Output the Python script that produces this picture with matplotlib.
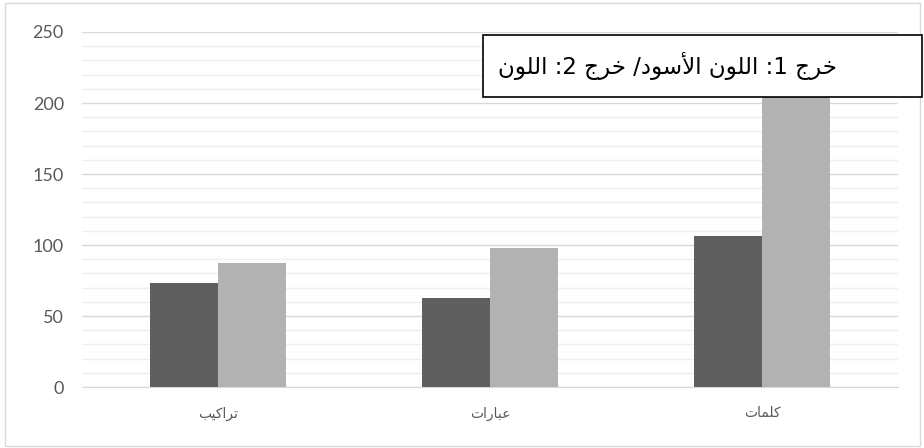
import matplotlib.pyplot as plt
from matplotlib.patches import Rectangle
from matplotlib.ticker import MultipleLocator

# data
categories = ['تراكيب', 'عبارات', 'كلمات']
output1 = [73, 63, 106]     # dark bars
output2 = [87, 98, 220]     # light bars (last one hidden behind the box)
box_text = 'خرج 1: اللون الأسود/ خرج 2: اللون'

# --- tiny arabic shaper (no arabic_reshaper / bidi available) ---
# letter: (isolated, final, initial, medial); None = does not join forward
FORMS = {
    'ا': (0xFE8D, 0xFE8E, None, None), 'أ': (0xFE83, 0xFE84, None, None),
    'ب': (0xFE8F, 0xFE90, 0xFE91, 0xFE92), 'ت': (0xFE95, 0xFE96, 0xFE97, 0xFE98),
    'ج': (0xFE9D, 0xFE9E, 0xFE9F, 0xFEA0), 'خ': (0xFEA5, 0xFEA6, 0xFEA7, 0xFEA8),
    'د': (0xFEA9, 0xFEAA, None, None), 'ر': (0xFEAD, 0xFEAE, None, None),
    'س': (0xFEB1, 0xFEB2, 0xFEB3, 0xFEB4), 'ع': (0xFEC9, 0xFECA, 0xFECB, 0xFECC),
    'ك': (0xFED9, 0xFEDA, 0xFEDB, 0xFEDC), 'ل': (0xFEDD, 0xFEDE, 0xFEDF, 0xFEE0),
    'م': (0xFEE1, 0xFEE2, 0xFEE3, 0xFEE4), 'ن': (0xFEE5, 0xFEE6, 0xFEE7, 0xFEE8),
    'و': (0xFEED, 0xFEEE, None, None), 'ي': (0xFEF1, 0xFEF2, 0xFEF3, 0xFEF4),
}
LAM_ALEF = {'ا': (0xFEFB, 0xFEFC), 'أ': (0xFEF7, 0xFEF8)}


def shape(s):
    # merge lam+alef first
    units = []
    i = 0
    while i < len(s):
        if s[i] == 'ل' and i + 1 < len(s) and s[i + 1] in LAM_ALEF:
            units.append(('LA', s[i + 1]))
            i += 2
        else:
            units.append(('C', s[i]))
            i += 1

    def joins_fwd(u):
        return u[0] == 'C' and u[1] in FORMS and FORMS[u[1]][2] is not None

    def is_ar(u):
        return u[0] == 'LA' or u[1] in FORMS

    out = []
    for k, u in enumerate(units):
        prev_j = k > 0 and joins_fwd(units[k - 1])
        nxt = k + 1 < len(units) and is_ar(units[k + 1])
        if u[0] == 'LA':
            out.append(chr(LAM_ALEF[u[1]][1 if prev_j else 0]))
        elif u[1] in FORMS:
            f = FORMS[u[1]]
            can_next = f[2] is not None and nxt
            if prev_j and can_next:
                out.append(chr(f[3]))
            elif prev_j:
                out.append(chr(f[1]))
            elif can_next:
                out.append(chr(f[2]))
            else:
                out.append(chr(f[0]))
        else:
            out.append(u[1])
    # visual order: reverse, but keep digit runs left-to-right
    res = []
    run = ''
    for ch in reversed(out):
        if ch.isdigit():
            run = ch + run
        else:
            res.append(run)
            run = ''
            res.append(ch)
    res.append(run)
    return ''.join(res)


W, H = 924, 448
fig = plt.figure(figsize=(W / 100, H / 100), dpi=100)
fig.patch.set_facecolor('white')

# outer chart border
fig.patches.append(Rectangle((5 / W, 1 - 446 / H), 915 / W, 443 / H,
                             transform=fig.transFigure, fill=False,
                             edgecolor='#d9d9d9', linewidth=1.0))

ax = fig.add_axes([82 / W, 61 / H, 816 / W, 355 / H])
x = list(range(len(categories)))
w = 0.25
ax.bar([i - w / 2 for i in x], output1, width=w, color='#5f5f5f', zorder=3)
ax.bar([i + w / 2 for i in x], output2, width=w, color='#b2b2b2', zorder=3)

ax.set_xlim(-0.5, len(categories) - 0.5)
ax.set_ylim(0, 250)
ax.yaxis.set_major_locator(MultipleLocator(50))
ax.yaxis.set_minor_locator(MultipleLocator(10))
ax.grid(axis='y', which='major', color='#d9d9d9', linewidth=1.0, zorder=0)
ax.grid(axis='y', which='minor', color='#efefef', linewidth=1.0, zorder=0)
for sp in ['top', 'right', 'left']:
    ax.spines[sp].set_visible(False)
ax.spines['bottom'].set_color('#d9d9d9')
ax.tick_params(axis='both', which='both', length=0)
ax.tick_params(axis='y', labelsize=13, labelcolor='#595959', pad=13)
ax.set_yticks([0, 50, 100, 150, 200, 250])
ax.set_yticklabels(['0', '50', '100', '150', '200', '250'], family='Lato')
ax.set_xticks(x)
ax.set_xticklabels([shape(c) for c in categories], family='DejaVu Sans',
                   fontsize=10, color='#595959')
ax.tick_params(axis='x', pad=14)

# text box covering the top of the tall bar
fig.patches.append(Rectangle((483 / W, 1 - 97 / H), 439 / W, 62 / H,
                             transform=fig.transFigure, facecolor='white',
                             edgecolor='black', linewidth=1.2, zorder=10))
fig.text(498 / W, 1 - 66 / H, shape(box_text), family='DejaVu Sans',
         fontsize=16.5, color='black', ha='left', va='center', zorder=11)

fig.savefig('out.png', dpi=100)
